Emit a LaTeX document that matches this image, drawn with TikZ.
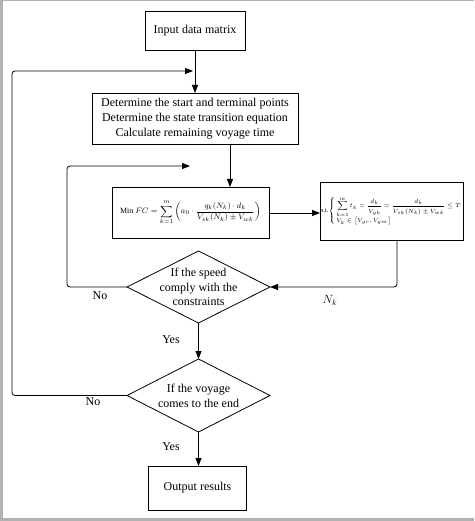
\documentclass[tikz,border=0pt]{standalone}
\usepackage{amsmath}
\usepackage{fontspec}
\setmainfont{Liberation Serif}
\usetikzlibrary{shapes.geometric,arrows.meta}
\begin{document}
\begin{tikzpicture}[x=1pt,y=-1pt, line width=0.8pt,
  box/.style={draw, rectangle, inner sep=0pt, outer sep=0pt, align=center, font=\fontsize{12}{15}\selectfont},
  dia/.style={draw, diamond, inner sep=0pt, outer sep=0pt},
  lbl/.style={inner sep=0pt, align=center, font=\fontsize{12}{14.5}\selectfont},
  arr/.style={-{Triangle[length=8pt,width=6pt]}},
  loopline/.style={arr, rounded corners=3pt},
  frame/.style={fill=black!30, draw=none}]
\useasboundingbox (0,0) rectangle (474,521);
\fill[frame] (0,0) rectangle (2.5,521);
\fill[frame] (0,0) rectangle (474,1.2);
\fill[frame] (0,518) rectangle (474,521);

\node[box, minimum width=100pt, minimum height=39pt] (input) at (195,30.5) {Input data matrix};
\node[box, minimum width=206pt, minimum height=51pt] (det) at (195,118.5) {Determine the start and terminal points\\Determine the state transition equation\\Calculate remaining voyage time};
\node[box, minimum width=157pt, minimum height=51pt, font=\fontsize{8}{10}\selectfont] (minfc) at (190.5,212.5)
  {Min $FC=\displaystyle\sum_{k=1}^{m}\left(a_0\cdot\frac{q_k(N_k)\cdot d_k}{V_{sk}(N_k)\pm V_{wk}}\right)$};
\node[box, minimum width=143pt, minimum height=58pt, font=\fontsize{6.4}{8}\selectfont] (st) at (391.5,211)
  {s.t.$\left\{\,\begin{array}{@{}l@{}}\displaystyle\sum_{k=1}^{m} t_k=\frac{d_k}{V_{gk}}=\frac{d_k}{V_{sk}(N_k)\pm V_{wk}}\le T\\[2pt] V_k\in\left[V_{gr},V_{gm}\right]\end{array}\right.$};
\node[dia, minimum width=143pt, minimum height=72pt] (d1) at (198.5,287) {};
\node[lbl] (t1) at (d1.center) {If the speed\\comply with the\\constraints};
\node[dia, minimum width=143pt, minimum height=73pt] (d2) at (198.5,395.5) {};
\node[lbl, font=\fontsize{12}{15}\selectfont] (t2) at (d2.center) {If the voyage\\comes to the end};
\node[box, minimum width=98pt, minimum height=44pt] (out) at (197.5,488) {Output results};

\node[lbl] (no1) at (100,296) {No};
\node[lbl] (nk) at (330,300) {$N_k$};
\node[lbl] (yes1) at (171,340) {Yes};
\node[lbl] (no2) at (93,402) {No};
\node[lbl] (yes2) at (171,447) {Yes};

\coordinate (innerend) at (190,166);
\coordinate (outerend) at (193,71);

\draw[arr] (input) -- (det);
\draw[arr] ([xshift=35pt]det.south) -- ([xshift=35pt]det.south |- minfc.north);
\draw[arr] ([yshift=-0.5pt]minfc.east) -- ([yshift=-0.5pt]minfc.east -| st.west);
\draw[loopline] ([xshift=5.5pt]st.south) |- (d1.east);
\draw[arr] (d1.south) -- (d2.north);
\draw[arr] (d2.south) -- (d2.south |- out.north);
\draw[loopline] (d1.west) -- (67,287) -- (67,166) -- (innerend);
\draw[loopline] (d2.west) -- (12,395.5) -- (12,71) -- (outerend);
\end{tikzpicture}
\end{document}
